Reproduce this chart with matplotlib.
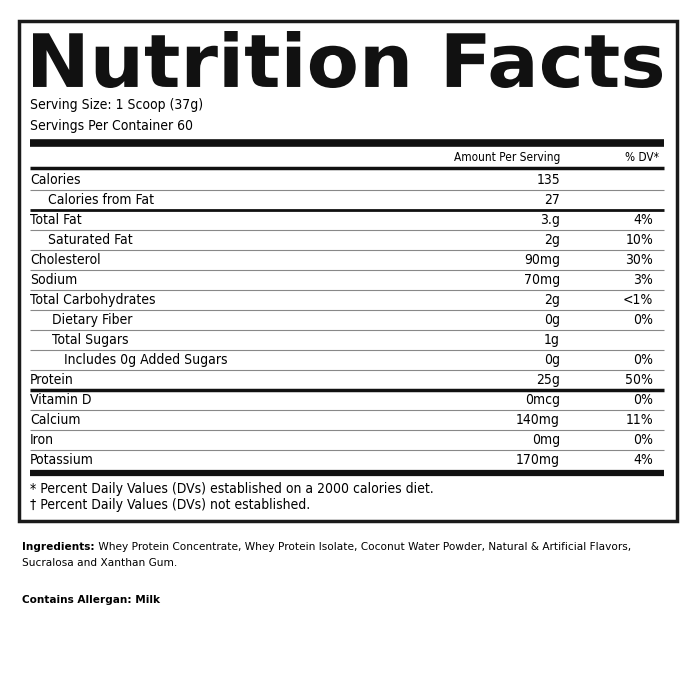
import matplotlib
matplotlib.use('Agg')
import matplotlib.pyplot as plt
from matplotlib.textpath import TextPath
from matplotlib.font_manager import FontProperties
from matplotlib.patches import PathPatch, Rectangle
from matplotlib.transforms import Affine2D

# data
nutrients = ['Calories', 'Calories from Fat', 'Total Fat', 'Saturated Fat', 'Cholesterol',
             'Sodium', 'Total Carbohydrates', 'Dietary Fiber', 'Total Sugars',
             'Includes 0g Added Sugars', 'Protein', 'Vitamin D', 'Calcium', 'Iron', 'Potassium']
amounts = ['135', '27', '3.g', '2g', '90mg', '70mg', '2g', '0g', '1g', '0g', '25g',
           '0mcg', '140mg', '0mg', '170mg']
dvs = ['', '', '4%', '10%', '30%', '3%', '<1%', '0%', '', '0%', '50%', '0%', '11%', '0%', '4%']
indents = [0, 18, 0, 18, 0, 0, 0, 22, 22, 34, 0, 0, 0, 0, 0]
thick_after = {1: 2, 10: 2.5}

W, H = 692, 694
fig = plt.figure(figsize=(W / 100, H / 100), dpi=100)
ax = fig.add_axes([0, 0, 1, 1])
ax.set_xlim(0, W)
ax.set_ylim(H, 0)
ax.axis('off')

nf = dict(family='DejaVu Sans', stretch='condensed', fontsize=10)

# outer box
ax.add_patch(Rectangle((19, 21), 658, 500, fill=False, lw=2.5, ec='#1a1a1a'))

# title drawn as a path, scaled to its box
tp = TextPath((0, 0), 'Nutrition Facts', size=100,
              prop=FontProperties(family='DejaVu Sans', weight='heavy'))
ext = tp.get_extents()
x0, x1, y0, y1 = 33, 662, 31, 88
tr = Affine2D().translate(-ext.x0, -ext.y0).scale((x1 - x0) / ext.width, -(y1 - y0) / ext.height).translate(x0, y1)
ax.add_patch(PathPatch(tr.transform_path(tp), fc='#111111', ec='none'))

ax.text(30, 105, 'Serving Size: 1 Scoop (37g)', va='center', **nf)
ax.text(30, 126, 'Servings Per Container 60', va='center', **nf)
ax.plot([30, 664], [142.5, 142.5], color='#111', lw=5.5, solid_capstyle='butt')
ax.text(560, 157, 'Amount Per Serving', ha='right', va='center',
        family='DejaVu Sans', stretch='condensed', fontsize=8.5)
ax.text(659, 157, '% DV*', ha='right', va='center',
        family='DejaVu Sans', stretch='condensed', fontsize=8.5)
ax.plot([30, 664], [167.5, 167.5], color='#111', lw=2.5, solid_capstyle='butt')

y = 180
for i, name in enumerate(nutrients):
    ax.text(30 + indents[i], y, name, va='center', **nf)
    ax.text(560, y, amounts[i], ha='right', va='center', **nf)
    if dvs[i]:
        ax.text(653, y, dvs[i], ha='right', va='center', **nf)
    if i < len(nutrients) - 1:
        lw = thick_after.get(i, 0.8)
        col = '#111' if i in thick_after else '#888'
        ax.plot([30, 664], [y + 10, y + 10], color=col, lw=lw, solid_capstyle='butt')
    y += 20
ax.plot([30, 664], [472.5, 472.5], color='#111', lw=4.5, solid_capstyle='butt')

ax.text(30, 489, '* Percent Daily Values (DVs) established on a 2000 calories diet.', va='center', **nf)
ax.text(30, 505, '† Percent Daily Values (DVs) not established.', va='center', **nf)

sf = 7.6
lab = ax.text(22, 547, 'Ingredients:', family='DejaVu Sans', weight='bold', fontsize=sf, va='center')
ax.annotate(' Whey Protein Concentrate, Whey Protein Isolate, Coconut Water Powder, Natural & Artificial Flavors,',
            xy=(1, 0.5), xycoords=lab, va='center', family='DejaVu Sans', fontsize=sf)
ax.text(22, 563, 'Sucralosa and Xanthan Gum.', family='DejaVu Sans', fontsize=sf, va='center')
ax.text(22, 600, 'Contains Allergan: Milk', family='DejaVu Sans', weight='bold', fontsize=sf, va='center')

fig.savefig('out.png', dpi=100, facecolor='white')
